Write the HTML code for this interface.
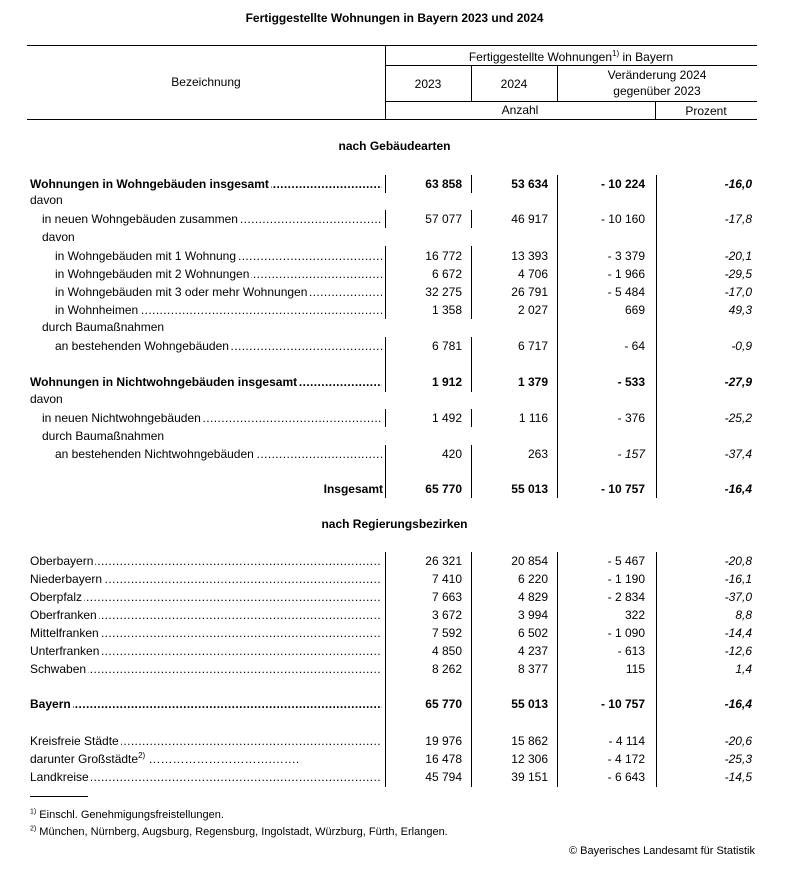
<!DOCTYPE html>
<html><head><meta charset="utf-8">
<style>
body{margin:0;background:#fff;font-family:"Liberation Sans",Arial,sans-serif;font-size:12px;color:#000}
#p{position:relative;width:789px;height:887px;overflow:hidden}
.t{position:absolute;white-space:nowrap;line-height:16px}
.r{position:absolute;left:0;width:789px;height:16px;line-height:16px}
.r div{position:absolute;white-space:nowrap;top:0}
.l{left:30px;width:352px;overflow:hidden}
.l span{background:#fff;padding-right:2px}
.l.d:after{content:"..................................................................................................................................................................";position:absolute;left:0;z-index:-1;letter-spacing:0.4px}
.l{z-index:1}
.a{right:327px}.b{right:241px}.c{right:144px}.e{right:37px;font-style:italic}
.bo div{font-weight:bold}
.h{position:absolute;background:#000}
</style></head><body><div id="p">
<div class="t" style="left:0;width:789px;text-align:center;top:10px;font-weight:bold">Fertiggestellte Wohnungen in Bayern 2023 und 2024</div>
<div class="h" style="left:27px;top:45px;width:730px;height:1px"></div>
<div class="h" style="left:385px;top:65px;width:372px;height:1px"></div>
<div class="h" style="left:385px;top:101px;width:372px;height:1px"></div>
<div class="h" style="left:27px;top:119px;width:730px;height:1px"></div>
<div class="h" style="left:385px;top:45px;width:1px;height:75px"></div>
<div class="h" style="left:471px;top:65px;width:1px;height:37px"></div>
<div class="h" style="left:557px;top:65px;width:1px;height:37px"></div>
<div class="h" style="left:655px;top:101px;width:1px;height:19px"></div>
<div class="t" style="left:385px;width:372px;text-align:center;top:49px">Fertiggestellte Wohnungen<sup style="font-size:8px;line-height:0">1)</sup> in Bayern</div>
<div class="t" style="left:27px;width:358px;text-align:center;top:74px">Bezeichnung</div>
<div class="t" style="left:385px;width:86px;text-align:center;top:76px">2023</div>
<div class="t" style="left:471px;width:86px;text-align:center;top:76px">2024</div>
<div class="t" style="left:557px;width:200px;text-align:center;top:67px;line-height:16px">Veränderung 2024<br>gegenüber 2023</div>
<div class="t" style="left:385px;width:270px;text-align:center;top:102px">Anzahl</div>
<div class="t" style="left:655px;width:102px;text-align:center;top:103px">Prozent</div>
<div class="t" style="left:0;width:789px;text-align:center;top:138px;font-weight:bold">nach Gebäudearten</div>
<div class="t" style="left:0;width:789px;text-align:center;top:516px;font-weight:bold">nach Regierungsbezirken</div>

<!-- continuous column lines -->
<div class="h" style="left:557px;top:175px;width:1px;height:323px"></div>
<div class="h" style="left:656px;top:175px;width:1px;height:323px"></div>
<div class="h" style="left:557px;top:552px;width:1px;height:235px"></div>
<div class="h" style="left:656px;top:552px;width:1px;height:235px"></div>
<!-- segmented lines -->
<div class="h" style="left:385px;top:175px;width:1px;height:18px"></div><div class="h" style="left:471px;top:175px;width:1px;height:18px"></div>
<div class="h" style="left:385px;top:210px;width:1px;height:18px"></div><div class="h" style="left:471px;top:210px;width:1px;height:18px"></div>
<div class="h" style="left:385px;top:246px;width:1px;height:73px"></div><div class="h" style="left:471px;top:246px;width:1px;height:73px"></div>
<div class="h" style="left:385px;top:337px;width:1px;height:55px"></div><div class="h" style="left:471px;top:337px;width:1px;height:55px"></div>
<div class="h" style="left:385px;top:409px;width:1px;height:18px"></div><div class="h" style="left:471px;top:409px;width:1px;height:18px"></div>
<div class="h" style="left:385px;top:445px;width:1px;height:53px"></div><div class="h" style="left:471px;top:445px;width:1px;height:53px"></div>
<div class="h" style="left:385px;top:552px;width:1px;height:235px"></div><div class="h" style="left:471px;top:552px;width:1px;height:235px"></div>

<div class="r bo" style="top:176px"><div class="l d"><span>Wohnungen in Wohngebäuden insgesamt</span></div><div class="a">63 858</div><div class="b">53 634</div><div class="c">- 10 224</div><div class="e">-16,0</div></div>
<div class="r" style="top:192px"><div class="l"><span>davon</span></div></div>
<div class="r" style="top:211px"><div class="l d" style="left:42px;width:340px"><span>in neuen Wohngebäuden zusammen</span></div><div class="a">57 077</div><div class="b">46 917</div><div class="c">- 10 160</div><div class="e">-17,8</div></div>
<div class="r" style="top:229px"><div class="l" style="left:42px"><span>davon</span></div></div>
<div class="r" style="top:248px"><div class="l d" style="left:55px;width:327px"><span>in Wohngebäuden mit 1 Wohnung</span></div><div class="a">16 772</div><div class="b">13 393</div><div class="c">- 3 379</div><div class="e">-20,1</div></div>
<div class="r" style="top:266px"><div class="l d" style="left:55px;width:327px"><span>in Wohngebäuden mit 2 Wohnungen</span></div><div class="a">6 672</div><div class="b">4 706</div><div class="c">- 1 966</div><div class="e">-29,5</div></div>
<div class="r" style="top:284px"><div class="l d" style="left:55px;width:327px"><span>in Wohngebäuden mit 3 oder mehr Wohnungen</span></div><div class="a">32 275</div><div class="b">26 791</div><div class="c">- 5 484</div><div class="e">-17,0</div></div>
<div class="r" style="top:302px"><div class="l d" style="left:55px;width:327px"><span>in Wohnheimen</span></div><div class="a">1 358</div><div class="b">2 027</div><div class="c">669</div><div class="e">49,3</div></div>
<div class="r" style="top:319px"><div class="l" style="left:42px"><span>durch Baumaßnahmen</span></div></div>
<div class="r" style="top:338px"><div class="l d" style="left:55px;width:327px"><span>an bestehenden Wohngebäuden</span></div><div class="a">6 781</div><div class="b">6 717</div><div class="c">- 64</div><div class="e">-0,9</div></div>
<div class="r bo" style="top:374px"><div class="l d"><span>Wohnungen in Nichtwohngebäuden insgesamt</span></div><div class="a">1 912</div><div class="b">1 379</div><div class="c">- 533</div><div class="e">-27,9</div></div>
<div class="r" style="top:391px"><div class="l"><span>davon</span></div></div>
<div class="r" style="top:410px"><div class="l d" style="left:42px;width:340px"><span>in neuen Nichtwohngebäuden</span></div><div class="a">1 492</div><div class="b">1 116</div><div class="c">- 376</div><div class="e">-25,2</div></div>
<div class="r" style="top:428px"><div class="l" style="left:42px"><span>durch Baumaßnahmen</span></div></div>
<div class="r" style="top:446px"><div class="l d" style="left:55px;width:327px"><span>an bestehenden Nichtwohngebäuden</span></div><div class="a">420</div><div class="b">263</div><div class="c">- <i>157</i></div><div class="e">-37,4</div></div>
<div class="r bo" style="top:481px"><div style="right:406px">Insgesamt</div><div class="a">65 770</div><div class="b">55 013</div><div class="c">- 10 757</div><div class="e">-16,4</div></div>

<div class="r" style="top:553px"><div class="l d"><span>Oberbayern</span></div><div class="a">26 321</div><div class="b">20 854</div><div class="c">- 5 467</div><div class="e">-20,8</div></div>
<div class="r" style="top:571px"><div class="l d"><span>Niederbayern</span></div><div class="a">7 410</div><div class="b">6 220</div><div class="c">- 1 190</div><div class="e">-16,1</div></div>
<div class="r" style="top:589px"><div class="l d"><span>Oberpfalz</span></div><div class="a">7 663</div><div class="b">4 829</div><div class="c">- 2 834</div><div class="e">-37,0</div></div>
<div class="r" style="top:607px"><div class="l d"><span>Oberfranken</span></div><div class="a">3 672</div><div class="b">3 994</div><div class="c">322</div><div class="e">8,8</div></div>
<div class="r" style="top:625px"><div class="l d"><span>Mittelfranken</span></div><div class="a">7 592</div><div class="b">6 502</div><div class="c">- 1 090</div><div class="e">-14,4</div></div>
<div class="r" style="top:643px"><div class="l d"><span>Unterfranken</span></div><div class="a">4 850</div><div class="b">4 237</div><div class="c">- 613</div><div class="e">-12,6</div></div>
<div class="r" style="top:661px"><div class="l d"><span>Schwaben</span></div><div class="a">8 262</div><div class="b">8 377</div><div class="c">115</div><div class="e">1,4</div></div>
<div class="r bo" style="top:696px"><div class="l d"><span>Bayern</span></div><div class="a">65 770</div><div class="b">55 013</div><div class="c">- 10 757</div><div class="e">-16,4</div></div>
<div class="r" style="top:733px"><div class="l d"><span>Kreisfreie Städte</span></div><div class="a">19 976</div><div class="b">15 862</div><div class="c">- 4 114</div><div class="e">-20,6</div></div>
<div class="r" style="top:751px"><div class="l" style="width:320px"><span>darunter Großstädte<sup style="font-size:8px;line-height:0">2)</sup> ………………………….…….</span></div><div class="a">16 478</div><div class="b">12 306</div><div class="c">- 4 172</div><div class="e">-25,3</div></div>
<div class="r" style="top:769px"><div class="l d"><span>Landkreise</span></div><div class="a">45 794</div><div class="b">39 151</div><div class="c">- 6 643</div><div class="e">-14,5</div></div>

<div class="h" style="left:30px;top:796px;width:58px;height:1px"></div>
<div class="t" style="left:30px;top:807px;font-size:11px"><sup style="font-size:7px;line-height:0">1)</sup> Einschl. Genehmigungsfreistellungen.</div>
<div class="t" style="left:30px;top:824px;font-size:11px"><sup style="font-size:7px;line-height:0">2)</sup> München, Nürnberg, Augsburg, Regensburg, Ingolstadt, Würzburg, Fürth, Erlangen.</div>
<div class="t" style="right:34px;top:843px;font-size:11px">© Bayerisches Landesamt für Statistik</div>
</div></body></html>
